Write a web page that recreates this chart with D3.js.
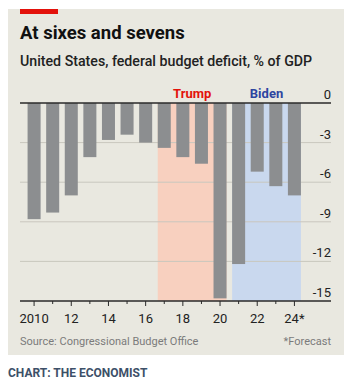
<!DOCTYPE html>
<html lang="en">
  <head>
    <meta charset="UTF-8" />
    <title>At sixes and sevens</title>
    <script src="https://d3js.org/d3.v7.min.js"></script>
    <style>
      body {
        margin: 0;
        background: #fff;
        font-family: Roboto, 'Liberation Sans', sans-serif;
      }
      svg {
        display: block;
      }
    </style>
  </head>
  <body>
    <svg width="351" height="386"></svg>

    <script>
      // Federal budget deficit, % of GDP (2024 is a forecast)
      const years = [2010, 2011, 2012, 2013, 2014, 2015, 2016, 2017, 2018, 2019, 2020, 2021, 2022, 2023, 2024];
      const deficit = [-8.8, -8.3, -7.0, -4.1, -2.8, -2.4, -3.0, -3.4, -4.1, -4.6, -14.8, -12.2, -5.2, -6.3, -7.0];
      const yTicks = [0, -3, -6, -9, -12, -15];
      const xTickLabels = ['2010', '12', '14', '16', '18', '20', '22', '24*'];
      const presidents = [
        { name: 'Trump', from: 2017, to: 2020 },
        { name: 'Biden', from: 2021, to: 2024 },
      ];

      const svg = d3.select('svg');

      // panel background
      svg.append('rect')
        .attr('x', 8).attr('y', 9)
        .attr('width', 336).attr('height', 346)
        .attr('fill', '#e9e8e0');

      svg.append('rect')
        .attr('x', 20).attr('y', 9)
        .attr('width', 38).attr('height', 5)
        .attr('fill', '#e3120b');

      svg.append('text')
        .attr('x', 20).attr('y', 39)
        .attr('font-size', 18.5)
        .attr('font-weight', 'bold')
        .attr('fill', '#111')
        .text('At sixes and sevens');

      svg.append('text')
        .attr('x', 20).attr('y', 66)
        .attr('font-size', 14.2)
        .attr('font-weight', 500)
        .attr('fill', '#222')
        .text('United States, federal budget deficit, % of GDP');

      const x = d3.scaleBand()
        .domain(years)
        .range([22, 306.5])
        .padding(0.3);

      const y = d3.scaleLinear()
        .domain([0, -15])
        .range([103, 301]);

      const left = 20, right = 331;

      // presidential shading
      const shade = { Trump: '#f8d0bf', Biden: '#c9d8ee' };
      const shadeText = { Trump: '#e3120b', Biden: '#2e45a0' };
      presidents.forEach((p) => {
        const x0 = x(p.from), x1 = x(p.to) + x.bandwidth();
        svg.append('rect')
          .attr('x', x0).attr('y', y(0))
          .attr('width', x1 - x0).attr('height', y(-15) - y(0))
          .attr('fill', shade[p.name]);
        svg.append('text')
          .attr('x', (x0 + x1) / 2).attr('y', 98)
          .attr('text-anchor', 'middle')
          .attr('font-size', 13)
          .attr('font-weight', 'bold')
          .attr('fill', shadeText[p.name])
          .text(p.name);
      });

      // gridlines
      svg.selectAll('.grid')
        .data(yTicks.filter((d) => d !== 0 && d !== -15))
        .join('line')
        .attr('x1', left).attr('x2', right)
        .attr('y1', (d) => y(d)).attr('y2', (d) => y(d))
        .attr('stroke', '#c9c7be')
        .attr('stroke-width', 1);

      svg.selectAll('.ylab')
        .data(yTicks)
        .join('text')
        .attr('x', right)
        .attr('y', (d) => y(d) - 4)
        .attr('text-anchor', 'end')
        .attr('font-size', 13)
        .attr('fill', '#222')
        .text((d) => (d === 0 ? '0' : d));

      // bars
      svg.selectAll('.bar')
        .data(years)
        .join('rect')
        .attr('x', (d) => x(d))
        .attr('y', y(0))
        .attr('width', x.bandwidth())
        .attr('height', (d, i) => y(deficit[i]) - y(0))
        .attr('fill', '#8c8e90');

      // zero line and bottom axis
      [0, -15].forEach((v) => {
        svg.append('line')
          .attr('x1', left).attr('x2', right)
          .attr('y1', y(v)).attr('y2', y(v))
          .attr('stroke', '#2a2a2a')
          .attr('stroke-width', 1.5);
      });

      // x ticks
      svg.selectAll('.xtick')
        .data(years)
        .join('line')
        .attr('x1', (d) => x(d) + x.bandwidth() / 2)
        .attr('x2', (d) => x(d) + x.bandwidth() / 2)
        .attr('y1', y(-15))
        .attr('y2', (d) => y(-15) + (d % 2 === 0 ? 5 : 3))
        .attr('stroke', '#2a2a2a')
        .attr('stroke-width', 1);

      svg.selectAll('.xlab')
        .data(years.filter((d) => d % 2 === 0))
        .join('text')
        .attr('x', (d) => x(d) + x.bandwidth() / 2)
        .attr('y', 323)
        .attr('text-anchor', 'middle')
        .attr('font-size', 13)
        .attr('fill', '#222')
        .text((d, i) => xTickLabels[i]);

      svg.append('text')
        .attr('x', 20).attr('y', 345)
        .attr('font-size', 11)
        .attr('fill', '#7b7b7b')
        .text('Source: Congressional Budget Office');

      svg.append('text')
        .attr('x', right).attr('y', 345)
        .attr('text-anchor', 'end')
        .attr('font-size', 11)
        .attr('fill', '#7b7b7b')
        .text('*Forecast');

      svg.append('text')
        .attr('x', 8).attr('y', 377)
        .attr('font-size', 12)
        .attr('font-weight', 'bold')
        .attr('fill', '#3d5068')
        .text('CHART: THE ECONOMIST');
    </script>
  </body>
</html>
